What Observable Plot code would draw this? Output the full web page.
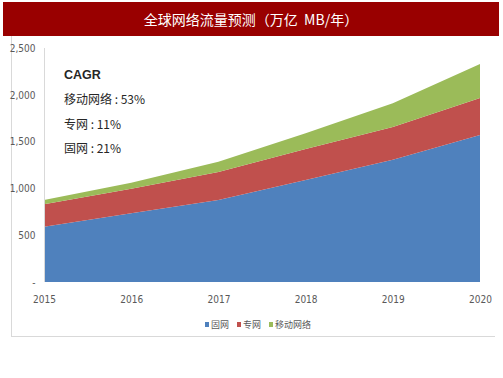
<!DOCTYPE html>
<html>
<head>
<meta charset="utf-8">
<script src="https://cdn.jsdelivr.net/npm/d3@7"></script>
<script src="https://cdn.jsdelivr.net/npm/@observablehq/plot@0.6"></script>
<style>
  html, body { margin: 0; padding: 0; background: #fff; }
  #wrap { position: relative; width: 503px; height: 378px; overflow: hidden;
    font-family: "Liberation Sans Narrow", "DejaVu Sans Condensed", "Noto Sans CJK SC", sans-serif; }
  #title { position: absolute; left: 3px; top: 2px; width: 496px; height: 34px; background: #990000;
    color: #fff; font: 14px "Noto Sans CJK SC", sans-serif; line-height: 34px; text-align: center; white-space: pre; }
  #frame { position: absolute; left: 11px; top: 36px; width: 483px; height: 300px;
    border-left: 1px solid #d9d9d9; border-bottom: 1px solid #d9d9d9; }
  #chart { position: absolute; left: 0; top: 36px; }
  #legend { position: absolute; left: 205px; top: 318px; font: 9px "Liberation Sans Narrow", "Noto Sans CJK SC", sans-serif; color: #595959;
    display: flex; align-items: center; white-space: nowrap; }
  #legend span.sw { display: inline-block; width: 4px; height: 5px; margin-right: 2px; }
  #legend span.it { margin-right: 8px; display: inline-flex; align-items: center; }
  #note { position: absolute; left: 64px; top: 62px; font: 12px "Liberation Sans Narrow", "Noto Sans CJK SC", sans-serif; color: #262626; line-height: 24.3px; }
  #note b { font-family: "Liberation Sans Narrow", sans-serif; font-weight: bold; font-size: 12.5px; }
</style>
</head>
<body>
<div id="wrap">
  <div id="frame"></div>
  <div id="chart"></div>
  <div id="title"></div>
  <div id="note"></div>
  <div id="legend"></div>
</div>
<script>
const titleText = "全球网络流量预测（万亿  MB/年）";
const years = [2015, 2016, 2017, 2018, 2019, 2020];
const seriesNames = ["固网", "专网", "移动网络"];
const fixedNet = [590, 735, 875, 1090, 1305, 1570];
const privateNet = [240, 260, 300, 330, 350, 395];
const mobileNet = [45, 65, 110, 170, 255, 365];
const colors = ["#4F81BD", "#C0504D", "#9BBB59"];
const yTicks = [0, 500, 1000, 1500, 2000, 2500];
const cagrTitle = "CAGR";
const cagrLines = ["移动网络 : 53%", "专网 : 11%", "固网 : 21%"];

document.getElementById("title").textContent = titleText;

const seriesValues = [fixedNet, privateNet, mobileNet];
const data = [];
seriesNames.forEach((s, i) => years.forEach((y, j) => data.push({year: y, series: s, value: seriesValues[i][j]})));

const chart = Plot.plot({
  width: 503,
  height: 280,
  marginLeft: 44,
  marginRight: 23,
  marginTop: 12,
  marginBottom: 34,
  style: {fontFamily: '"Liberation Sans Narrow", "DejaVu Sans Condensed", sans-serif', fontSize: "10px", color: "#595959", background: "transparent"},
  x: {domain: [years[0], years[years.length - 1]], label: null},
  y: {domain: [0, 2500], label: null},
  color: {domain: seriesNames, range: colors},
  marks: [
    Plot.areaY(data, {x: "year", y: "value", fill: "series", order: seriesNames}),
    Plot.ruleX([years[0]], {y1: 0, y2: 2500, stroke: "#d9d9d9", strokeWidth: 1}),
    Plot.axisY({ticks: yTicks, tickSize: 0, tickPadding: 9, tickFormat: d => d === 0 ? "-" : d3.format(",")(d), label: null}),
    Plot.axisX({ticks: years, tickSize: 0, tickPadding: 13, tickFormat: d => String(d), label: null})
  ]
});
document.getElementById("chart").appendChild(chart);

const note = document.getElementById("note");
const b = document.createElement("b"); b.textContent = cagrTitle;
const bd = document.createElement("div"); bd.appendChild(b); note.appendChild(bd);
cagrLines.forEach(t => { const d = document.createElement("div"); d.textContent = t; note.appendChild(d); });

const legend = document.getElementById("legend");
seriesNames.forEach((s, i) => {
  const it = document.createElement("span"); it.className = "it";
  const sw = document.createElement("span"); sw.className = "sw"; sw.style.background = colors[i];
  it.appendChild(sw); it.appendChild(document.createTextNode(s));
  legend.appendChild(it);
});
</script>
</body>
</html>
